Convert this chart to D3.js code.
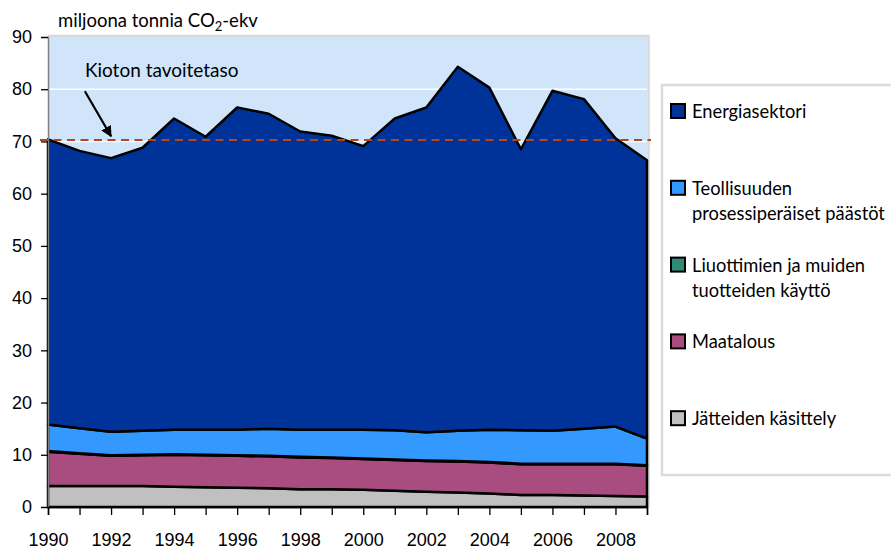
<!DOCTYPE html>
<meta charset="utf-8">
<style>
body { margin: 0; background: #fff; }
svg { font-family: Lato, "Open Sans", sans-serif; }
.axis text { font-size: 18px; fill: #000; }
</style>
<body>
<script src="https://cdn.jsdelivr.net/npm/d3@7/dist/d3.min.js"></script>
<script>

var years = [1990, 1991, 1992, 1993, 1994, 1995, 1996, 1997, 1998, 1999,
             2000, 2001, 2002, 2003, 2004, 2005, 2006, 2007, 2008, 2009];

// miljoonaa tonnia CO2-ekv
var energia     = [54.6, 53.1, 52.4, 54.2, 59.6, 56.1, 61.7, 60.3, 57.1, 56.3,
                   54.3, 59.7, 62.2, 69.7, 65.5, 53.8, 65.1, 63.1, 55.2, 53.3];
var teollisuus  = [5.1, 4.8, 4.5, 4.6, 4.7, 4.8, 4.9, 5.2, 5.2, 5.3,
                   5.5, 5.6, 5.4, 5.8, 6.2, 6.4, 6.3, 6.7, 7.1, 5.1];
var liuottimet  = [0.1, 0.1, 0.1, 0.1, 0.1, 0.1, 0.1, 0.1, 0.1, 0.1,
                   0.1, 0.1, 0.1, 0.1, 0.1, 0.1, 0.1, 0.1, 0.1, 0.1];
var maatalous   = [6.6, 6.2, 5.8, 5.9, 6.1, 6.1, 6.1, 6.1, 6.1, 6.0,
                   5.9, 5.9, 5.9, 5.9, 5.9, 5.9, 5.9, 6.0, 6.1, 5.9];
var jatteet     = [4.0, 4.0, 4.0, 4.0, 3.9, 3.8, 3.7, 3.6, 3.4, 3.4,
                   3.3, 3.1, 2.9, 2.8, 2.6, 2.3, 2.3, 2.2, 2.1, 2.0];

var kiotoTaso = 70.3;
var yTicks = [0, 10, 20, 30, 40, 50, 60, 70, 80, 90];

// legend order, top to bottom
var legendLabels = [
  ["Energiasektori"],
  ["Teollisuuden", "prosessiperäiset päästöt"],
  ["Liuottimien ja muiden", "tuotteiden käyttö"],
  ["Maatalous"],
  ["Jätteiden käsittely"]
];
var legendKeys = ["energia", "teollisuus", "liuottimet", "maatalous", "jatteet"];

var color = {
  energia: "#003399",
  teollisuus: "#3399ff",
  liuottimet: "#2f8a78",
  maatalous: "#a94c80",
  jatteet: "#c0c0c0"
};

var width = 891, height = 551;
var margin = {top: 37, right: 244, bottom: 44, left: 48};

var svg = d3.select("body").append("svg")
    .attr("width", width)
    .attr("height", height);

var x = d3.scaleLinear()
    .domain([1990, 2009])
    .range([margin.left, width - margin.right]);

var y = d3.scaleLinear()
    .domain([0, 90])
    .range([height - margin.bottom, margin.top]);

var table = years.map(function(yr, i) {
  return {
    year: yr,
    jatteet: jatteet[i],
    maatalous: maatalous[i],
    liuottimet: liuottimet[i],
    teollisuus: teollisuus[i],
    energia: energia[i]
  };
});

var stack = d3.stack()
    .keys(["jatteet", "maatalous", "liuottimet", "teollisuus", "energia"]);

var area = d3.area()
    .x(function(d) { return x(d.data.year); })
    .y0(function(d) { return y(d[0]); })
    .y1(function(d) { return y(d[1]); });

// plot background
svg.append("rect")
    .attr("x", x(1990))
    .attr("y", y(90))
    .attr("width", x(2009) - x(1990))
    .attr("height", y(0) - y(90))
    .attr("fill", "#d0e4fa");

svg.append("path")
    .attr("d", "M" + x(1990) + "," + (y(90) - 1) + "H" + (x(2009) + 1.5) + "V" + y(0))
    .attr("fill", "none")
    .attr("stroke", "#d9d9d9")
    .attr("stroke-width", 2.5);

svg.append("g")
    .selectAll("line")
    .data(yTicks.slice(1, -1))
  .enter().append("line")
    .attr("x1", x(1990))
    .attr("x2", x(2009))
    .attr("y1", function(d) { return y(d); })
    .attr("y2", function(d) { return y(d); })
    .attr("stroke", "#fff")
    .attr("stroke-width", 1.5);

svg.append("g")
    .selectAll("path")
    .data(stack(table))
  .enter().append("path")
    .attr("d", area)
    .attr("fill", function(d) { return color[d.key]; })
    .attr("stroke", "#000")
    .attr("stroke-width", 2.5)
    .attr("stroke-linejoin", "round");

// Kioto target line
svg.append("line")
    .attr("x1", x(1990) - 8)
    .attr("x2", x(2009) + 4)
    .attr("y1", y(kiotoTaso))
    .attr("y2", y(kiotoTaso))
    .attr("stroke", "#b5451b")
    .attr("stroke-width", 2)
    .attr("stroke-dasharray", "8,5.5");

svg.append("defs").append("marker")
    .attr("id", "arrow")
    .attr("viewBox", "0 0 10 10")
    .attr("refX", 9)
    .attr("refY", 5)
    .attr("markerWidth", 5)
    .attr("markerHeight", 5)
    .attr("orient", "auto")
  .append("path")
    .attr("d", "M0,0L10,5L0,10z")
    .attr("fill", "#000");

svg.append("line")
    .attr("x1", x(1991.17))
    .attr("y1", y(79.6))
    .attr("x2", x(1992))
    .attr("y2", y(71.0))
    .attr("stroke", "#000")
    .attr("stroke-width", 2.2)
    .attr("marker-end", "url(#arrow)");

svg.append("text")
    .attr("x", x(1991.17))
    .attr("y", y(82.3))
    .attr("font-size", 19)
    .text("Kioton tavoitetaso");

// title
var title = svg.append("text")
    .attr("x", 58)
    .attr("y", 27)
    .attr("font-size", 18.5);
title.append("tspan").text("miljoona tonnia CO");
title.append("tspan").attr("font-size", 13).attr("dy", 4).text("2");
title.append("tspan").attr("dy", -4).text("-ekv");

// axes
var yAxis = svg.append("g")
    .attr("class", "axis")
    .attr("transform", "translate(" + x(1990) + ",0)")
    .call(d3.axisLeft(y).tickValues(yTicks).tickSize(7).tickPadding(9));
yAxis.select(".domain").attr("stroke", "#808080").attr("stroke-width", 1.5);
yAxis.selectAll(".tick line").attr("stroke", "#000").attr("stroke-width", 1.3);

var xAxis = svg.append("g")
    .attr("class", "axis")
    .attr("transform", "translate(0," + y(0) + ")")
    .call(d3.axisBottom(x)
      .tickValues(years)
      .tickSize(8)
      .tickPadding(18)
      .tickFormat(function(d) { return d % 2 === 0 ? d : ""; }));
xAxis.select(".domain").attr("stroke", "#000").attr("stroke-width", 1.5);
xAxis.selectAll(".tick line").attr("stroke", "#000").attr("stroke-width", 1.3);

// legend
var legend = svg.append("g");
legend.append("rect")
    .attr("x", 662)
    .attr("y", 85)
    .attr("width", 260)
    .attr("height", 390)
    .attr("fill", "#fff")
    .attr("stroke", "#dcdcdc")
    .attr("stroke-width", 2.5);

var item = legend.selectAll(".item")
    .data(legendKeys)
  .enter().append("g")
    .attr("class", "item")
    .attr("transform", function(d, i) { return "translate(671," + (111 + i * 76.8) + ")"; });

item.append("rect")
    .attr("x", 0)
    .attr("y", -7)
    .attr("width", 14)
    .attr("height", 14)
    .attr("fill", function(d) { return color[d]; })
    .attr("stroke", "#000")
    .attr("stroke-width", 2);

item.append("text")
    .attr("x", 21)
    .attr("y", 7)
    .attr("font-size", 18.3)
    .selectAll("tspan")
    .data(function(d, i) { return legendLabels[i]; })
  .enter().append("tspan")
    .attr("x", 21)
    .attr("dy", function(d, i) { return i ? 25.5 : 0; })
    .text(function(d) { return d; });

</script>
